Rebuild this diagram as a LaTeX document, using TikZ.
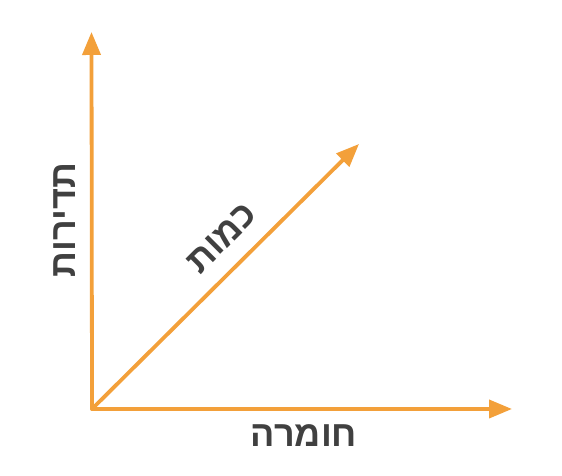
\documentclass[tikz,border=0pt]{standalone}
\usepackage{fontspec}
\TeXXeTstate=1
\newfontfamily\hebfont[Script=Hebrew]{Liberation Sans}
\usetikzlibrary{arrows.meta}
\definecolor{axisorange}{RGB}{243,160,58}
\definecolor{labelgray}{RGB}{64,64,64}
\tikzset{
  axisline/.style={draw=axisorange, line width=3.8pt, line cap=round,
    -{Triangle[length=23pt,width=18pt]}},
  axislabel/.style={text=labelgray, font=\hebfont\bfseries\fontsize{36}{40}\selectfont, inner sep=0pt}
}
\begin{document}
\begin{tikzpicture}[x=1pt,y=1pt]
  \useasboundingbox[fill=white] (0,0) rectangle (562,476);
  \coordinate (o) at (92,67);
  \coordinate (ytip) at (91.5,444);
  \coordinate (xtip) at (512,67);
  \coordinate (dtip) at (359,332);
  \draw[axisline] (o) -- (ytip);
  \draw[axisline] (o) -- (xtip);
  \draw[axisline] (o) -- (dtip);
  \node[axislabel] (xl) at (304,40) {\beginR חומרה\endR};
  \node[axislabel, rotate=90] (yl) at (64.5,256) {\beginR תדירות\endR};
  \node[axislabel, rotate=45] (dl) at (222,238) {\beginR כמות\endR};
\end{tikzpicture}
\end{document}
